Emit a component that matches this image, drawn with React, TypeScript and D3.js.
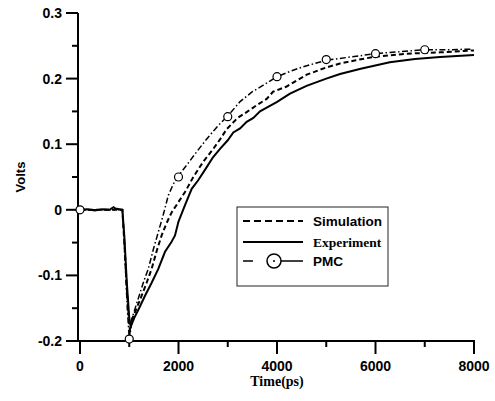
import React from 'react'
import * as d3 from 'd3'

// time (ps) / volts
const expT = [0, 150, 300, 450, 600, 680, 720, 800, 860, 900, 950, 1000, 1030, 1100, 1200, 1320, 1450, 1590, 1726, 1850, 1929, 2000, 2132, 2268, 2400, 2573, 2700, 2843, 3000, 3113, 3250, 3384, 3520, 3655, 3800, 3994, 4264, 4600, 5000, 5280, 5700, 6290, 6800, 7310, 8000]
const expV = [0, 0.001, -0.001, 0.001, 0, 0.004, 0.002, 0.001, 0, -0.04, -0.11, -0.165, -0.178, -0.165, -0.15, -0.131, -0.112, -0.09, -0.064, -0.05, -0.039, -0.018, 0.007, 0.032, 0.045, 0.065, 0.08, 0.093, 0.106, 0.118, 0.124, 0.134, 0.14, 0.15, 0.156, 0.164, 0.177, 0.189, 0.2, 0.207, 0.215, 0.225, 0.23, 0.233, 0.236]

const simT = [0, 300, 600, 860, 900, 950, 1000, 1020, 1050, 1150, 1252, 1350, 1455, 1560, 1658, 1760, 1861, 2000, 2132, 2301, 2500, 2707, 2850, 2978, 3200, 3384, 3600, 3790, 3920, 4197, 4603, 5000, 5280, 5600, 5955, 6633, 7310, 8000]
const simV = [0, 0, 0, 0, -0.05, -0.12, -0.175, -0.186, -0.168, -0.15, -0.131, -0.112, -0.09, -0.062, -0.039, -0.02, -0.004, 0.012, 0.027, 0.05, 0.073, 0.093, 0.108, 0.123, 0.14, 0.149, 0.16, 0.169, 0.18, 0.188, 0.206, 0.217, 0.223, 0.228, 0.233, 0.238, 0.24, 0.243]

const pmcLineT = [0, 400, 860, 900, 960, 1000, 1040, 1100, 1184, 1290, 1387, 1490, 1590, 1700, 1793, 1900, 2000, 2166, 2335, 2573, 2800, 3000, 3250, 3500, 3722, 4000, 4300, 4530, 5000, 5500, 6000, 6500, 7000, 7500, 7960]
const pmcLineV = [0, 0, 0, -0.05, -0.15, -0.197, -0.17, -0.155, -0.135, -0.11, -0.09, -0.06, -0.034, -0.005, 0.022, 0.04, 0.052, 0.068, 0.085, 0.108, 0.128, 0.143, 0.165, 0.18, 0.19, 0.203, 0.212, 0.218, 0.228, 0.233, 0.238, 0.241, 0.244, 0.244, 0.245]

const pmcT = [0, 1000, 2000, 3000, 4000, 5000, 6000, 7000]
const pmcV = [0, -0.197, 0.05, 0.142, 0.203, 0.229, 0.238, 0.244]

const xMajor = [0, 2000, 4000, 6000, 8000]
const xMinor = [1000, 3000, 5000, 7000]
const yMajor = [-0.2, -0.1, 0, 0.1, 0.2, 0.3]
const yMinor = [-0.15, -0.05, 0.05, 0.15, 0.25]

const legendItems = ['Simulation', 'Experiment', 'PMC']

export default function App() {
  const W = 495, H = 401
  const axisX = 78
  const x = d3.scaleLinear().domain([0, 8000]).range([80, 474])
  const y = d3.scaleLinear().domain([-0.2, 0.3]).range([341, 13])

  const line = d3.line<[number, number]>().x(d => x(d[0])).y(d => y(d[1]))
  const zip = (a: number[], b: number[]) => a.map((t, i) => [t, b[i]] as [number, number])

  const sans = 'Arial, "Liberation Sans", Helvetica, sans-serif'
  const serif = '"Times New Roman", "Liberation Serif", serif'
  const yBase = y(-0.2)

  return (
    <svg width={W} height={H} style={{ position: 'absolute', left: 0, top: 0, background: '#fff' }}>
      {/* axes */}
      <line x1={axisX} x2={axisX} y1={y(0.3)} y2={yBase} stroke="#000" strokeWidth={2} />
      <line x1={axisX - 1} x2={x(8000) + 1} y1={yBase} y2={yBase} stroke="#000" strokeWidth={2} />
      {yMajor.map(v => (
        <g key={'ym' + v}>
          <line x1={axisX - 12} x2={axisX} y1={y(v)} y2={y(v)} stroke="#000" strokeWidth={2} />
          <text x={axisX - 16} y={y(v)} dy="0.35em" textAnchor="end" fontFamily={sans} fontWeight="bold" fontSize={14}>
            {v === 0 ? '0' : d3.format('.1f')(v).replace('−', '-')}
          </text>
        </g>
      ))}
      {yMinor.map(v => (
        <line key={'yn' + v} x1={axisX - 6} x2={axisX} y1={y(v)} y2={y(v)} stroke="#000" strokeWidth={2} />
      ))}
      {xMajor.map(t => (
        <g key={'xm' + t}>
          <line x1={x(t)} x2={x(t)} y1={yBase} y2={yBase + 13} stroke="#000" strokeWidth={2} />
          <text x={x(t)} y={yBase + 30} textAnchor="middle" fontFamily={sans} fontWeight="bold" fontSize={14}>{t}</text>
        </g>
      ))}
      {xMinor.map(t => (
        <line key={'xn' + t} x1={x(t)} x2={x(t)} y1={yBase} y2={yBase + 6} stroke="#000" strokeWidth={2} />
      ))}
      <text x={x(4000)} y={386} textAnchor="middle" fontFamily={serif} fontWeight="bold" fontSize={14}>Time(ps)</text>
      <text transform={`translate(25,${y(0.05)}) rotate(-90)`} textAnchor="middle" fontFamily={sans} fontWeight="bold" fontSize={13}>Volts</text>

      {/* series */}
      <path d={line(zip(expT, expV)) || ''} fill="none" stroke="#000" strokeWidth={2} />
      <path d={line(zip(simT, simV)) || ''} fill="none" stroke="#000" strokeWidth={2} strokeDasharray="5,3" />
      <path d={line(zip(pmcLineT, pmcLineV)) || ''} fill="none" stroke="#000" strokeWidth={1.5} strokeDasharray="6,2.5,1.5,2.5" />
      {pmcT.map((t, i) => (
        <circle key={'pm' + t} cx={x(t)} cy={y(pmcV[i])} r={4} fill="#fff" stroke="#000" strokeWidth={1.2} />
      ))}

      {/* legend */}
      <rect x={237} y={207} width={151} height={79} fill="#fff" stroke="#222" strokeWidth={1} />
      {legendItems.map((name, i) => {
        const ly = [221, 242, 261][i]
        return (
          <g key={name}>
            {i === 0 && <line x1={243} x2={303} y1={ly} y2={ly} stroke="#000" strokeWidth={2} strokeDasharray="7,4" />}
            {i === 1 && <line x1={243} x2={303} y1={ly} y2={ly} stroke="#000" strokeWidth={2} />}
            {i === 2 && (
              <g>
                <line x1={243} x2={253} y1={ly} y2={ly} stroke="#000" strokeWidth={1.5} />
                <line x1={281} x2={303} y1={ly} y2={ly} stroke="#000" strokeWidth={1.5} />
                <circle cx={274} cy={ly} r={7} fill="none" stroke="#000" strokeWidth={1.5} />
                <circle cx={274} cy={ly} r={1} fill="#000" />
              </g>
            )}
            <text x={313} y={ly} dy="0.35em" fontFamily={i === 1 ? serif : sans} fontWeight="bold" fontSize={i === 1 ? 13.5 : 13.5}>{name}</text>
          </g>
        )
      })}
    </svg>
  )
}
